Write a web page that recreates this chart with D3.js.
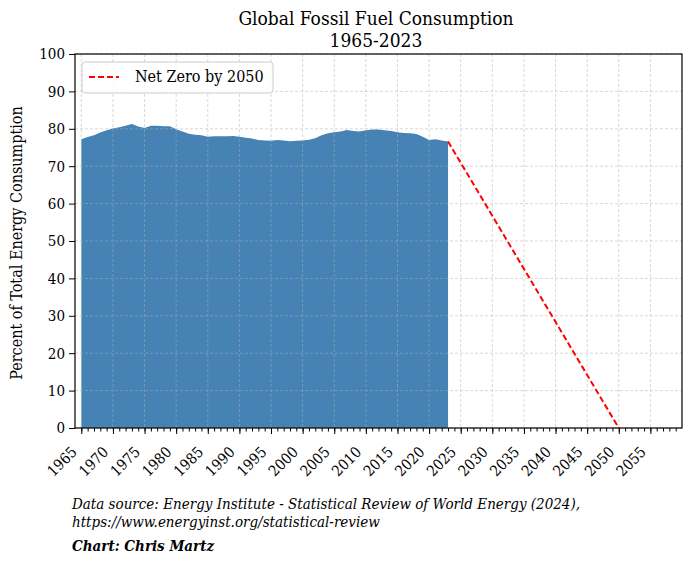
<!DOCTYPE html>
<html><head><meta charset="utf-8">
<script src="https://cdn.jsdelivr.net/npm/d3@7"></script>
<style>body{margin:0;background:#fff}svg{display:block}text{font-family:"DejaVu Serif Condensed","DejaVu Serif",serif}</style>
</head><body><svg id="c" width="690" height="562"></svg>
<script>
const years = d3.range(1965, 2024);
const fossilShare = [77.2,77.8,78.3,79.0,79.6,80.1,80.4,80.8,81.3,80.6,
80.2,80.8,80.8,80.7,80.7,79.9,79.3,78.7,78.4,78.3,
77.9,78.0,78.0,78.0,78.1,77.9,77.6,77.4,77.0,76.9,
76.8,77.0,76.9,76.7,76.8,76.9,77.1,77.5,78.3,78.8,
79.1,79.3,79.7,79.4,79.3,79.6,79.8,79.8,79.6,79.4,
79.1,78.9,78.8,78.6,77.9,77.0,77.2,76.9,76.6];
const netZeroYears = [2023, 2050];
const netZeroValues = [76.6, 0];
const xTicks = d3.range(1965, 2060, 5);
const yTicks = d3.range(0, 101, 10);
const titleLines = ["Global Fossil Fuel Consumption", "1965-2023"];

const svg = d3.select("#c");
const L = 75, R = 682, T = 54, B = 428;
const x = d3.scaleLinear().domain([1964, 2060]).range([L, R]);
const y = d3.scaleLinear().domain([0, 100]).range([B, T]);
const data = years.map((yr, i) => ({yr, v: fossilShare[i]}));

// area
svg.append("path").datum(data)
  .attr("d", d3.area().x(d => x(d.yr)).y0(y(0)).y1(d => y(d.v)))
  .attr("fill", "#4682b4");

// grid
const g = svg.append("g").attr("stroke", "#b0b0b0").attr("stroke-width", 0.8)
  .attr("stroke-dasharray", "3,2").attr("opacity", 0.6);
xTicks.forEach(t => g.append("line").attr("x1", x(t)).attr("x2", x(t)).attr("y1", T).attr("y2", B));
yTicks.forEach(t => g.append("line").attr("x1", L).attr("x2", R).attr("y1", y(t)).attr("y2", y(t)));

// net zero line
svg.append("path").datum(netZeroYears.map((yr, i) => ({yr, v: netZeroValues[i]})))
  .attr("d", d3.line().x(d => x(d.yr)).y(d => y(d.v)))
  .attr("fill", "none").attr("stroke", "red").attr("stroke-width", 2)
  .attr("stroke-dasharray", "6,3");

// axes
const xAxis = d3.axisBottom(x).tickValues(xTicks).tickFormat(d3.format("d")).tickSize(6).tickPadding(4);
const xMinor = d3.axisBottom(x).tickValues(d3.range(1965, 2060)).tickFormat("").tickSize(3.5);
const gx = svg.append("g").attr("transform", `translate(0,${B})`);
gx.append("g").call(xMinor).call(s => s.select(".domain").remove());
const gxm = gx.append("g").call(xAxis);
gx.selectAll("line").attr("stroke", "#000").attr("stroke-width", 1);
gxm.select(".domain").remove();
gxm.selectAll("text").attr("font-size", 15).attr("fill", "#000")
  .attr("text-anchor", "end").attr("y", 0).attr("dy", 0)
  .attr("transform", "translate(-4,25) rotate(-45)");

const gy = svg.append("g").attr("transform", `translate(${L},0)`)
  .call(d3.axisLeft(y).tickValues(yTicks).tickSize(6).tickPadding(4));
gy.select(".domain").remove();
gy.selectAll("text").attr("font-size", 15).attr("fill", "#000");
gy.selectAll("line").attr("stroke", "#000");

svg.append("rect").attr("x", L).attr("y", T).attr("width", R - L).attr("height", B - T)
  .attr("fill", "none").attr("stroke", "#000").attr("stroke-width", 1.2);

// title
svg.append("text").attr("x", 376).attr("y", 25).attr("text-anchor", "middle").attr("font-size", 19).text(titleLines[0]);
svg.append("text").attr("x", 376).attr("y", 47).attr("text-anchor", "middle").attr("font-size", 19).text(titleLines[1]);

// y label
svg.append("text").attr("transform", "translate(22,243) rotate(-90)").attr("text-anchor", "middle")
  .attr("font-size", 16).text("Percent of Total Energy Consumption");

// legend
svg.append("rect").attr("x", 82).attr("y", 62).attr("width", 191).attr("height", 31).attr("rx", 3)
  .attr("fill", "#fff").attr("fill-opacity", 0.85).attr("stroke", "#ccc");
svg.append("line").attr("x1", 89).attr("x2", 119).attr("y1", 77).attr("y2", 77)
  .attr("stroke", "red").attr("stroke-width", 2).attr("stroke-dasharray", "6,3");
svg.append("text").attr("x", 135).attr("y", 82).attr("font-size", 16).text("Net Zero by 2050");

// footer
const f = svg.append("g").attr("font-size", 15).attr("font-style", "italic");
f.append("text").attr("x", 72).attr("y", 509).text("Data source: Energy Institute - Statistical Review of World Energy (2024),");
f.append("text").attr("x", 72).attr("y", 527).text("https://www.energyinst.org/statistical-review");
f.append("text").attr("x", 72).attr("y", 551).attr("font-weight", "bold").text("Chart: Chris Martz");
</script></body></html>
